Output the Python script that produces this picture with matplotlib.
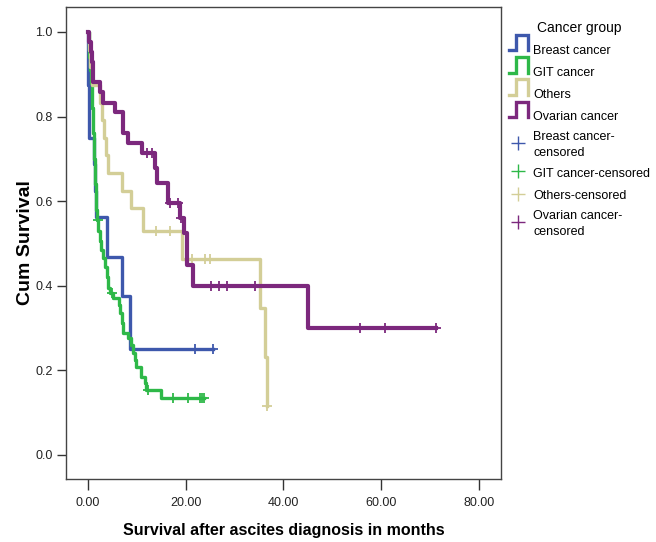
import matplotlib
matplotlib.use("Agg")
import matplotlib.pyplot as plt
from matplotlib.lines import Line2D
from matplotlib.legend_handler import HandlerBase

plt.rcParams['font.family'] = ['Liberation Sans Narrow', 'Liberation Sans', 'DejaVu Sans']

# Kaplan-Meier steps (months, cum survival)
breast_t = [0, 0.05, 0.1, 0.15, 0.2, 1.2, 1.4, 1.7, 3.8, 6.9, 8.5, 25.5]
breast_s = [1.0, 0.938, 0.875, 0.813, 0.75, 0.688, 0.625, 0.563, 0.469, 0.375, 0.25, 0.25]
breast_cens_t = [21.9, 25.5]
breast_cens_s = [0.25, 0.25]

git_t = [0, 0.15, 0.3, 0.45, 0.6, 0.75, 0.85, 0.95, 1.05, 1.15, 1.25, 1.35, 1.45,
         1.55, 1.7, 1.85, 2.1, 2.4, 2.7, 3.0, 3.4, 3.8, 4.1, 4.6, 5.2, 6.3, 6.6,
         7.0, 7.2, 8.2, 8.8, 9.2, 9.7, 9.9, 10.9, 11.6, 11.8, 15.0, 23.7]
git_s = [1.0, 0.97, 0.94, 0.91, 0.88, 0.85, 0.82, 0.79, 0.76, 0.73, 0.70, 0.67, 0.64,
         0.61, 0.58, 0.555, 0.53, 0.505, 0.485, 0.465, 0.445, 0.42, 0.395, 0.383, 0.371,
         0.355, 0.336, 0.312, 0.288, 0.277, 0.259, 0.241, 0.225, 0.208, 0.184, 0.169,
         0.154, 0.135, 0.135]
git_cens_t = [2.0, 5.0, 12.3, 17.4, 20.4, 22.9, 23.3, 23.7]
git_cens_s = [0.555, 0.383, 0.154, 0.135, 0.135, 0.135, 0.135, 0.135]

others_t = [0, 0.2, 0.5, 0.9, 2.4, 2.8, 3.2, 3.6, 4.0, 6.9, 8.9, 11.2, 19.2, 35.2,
            36.3, 36.6]
others_s = [1.0, 0.958, 0.917, 0.875, 0.833, 0.792, 0.75, 0.708, 0.667, 0.625, 0.583,
            0.529, 0.463, 0.347, 0.231, 0.116]
others_cens_t = [13.9, 16.8, 21.2, 23.9, 25.0, 36.6]
others_cens_s = [0.529, 0.529, 0.463, 0.463, 0.463, 0.116]

ovarian_t = [0, 0.3, 0.6, 0.9, 1.1, 2.5, 3.1, 5.5, 7.2, 8.2, 11.0, 13.7, 14.1, 16.4,
             18.8, 19.6, 20.2, 21.5, 45.0, 71.2]
ovarian_s = [1.0, 0.976, 0.952, 0.929, 0.881, 0.857, 0.833, 0.810, 0.762, 0.738, 0.714,
             0.678, 0.643, 0.595, 0.56, 0.525, 0.45, 0.40, 0.30, 0.30]
ovarian_cens_t = [12.0, 13.0, 16.8, 18.4, 19.0, 25.2, 26.8, 28.4, 34.2, 55.6, 60.7, 71.2]
ovarian_cens_s = [0.714, 0.714, 0.595, 0.595, 0.56, 0.40, 0.40, 0.40, 0.40, 0.30, 0.30, 0.30]

groups = ['Breast cancer', 'GIT cancer', 'Others', 'Ovarian cancer']
colors = ['#3E58AC', '#2EB848', '#D3CE97', '#7C287D']
widths = [2.4, 2.4, 2.4, 3.0]
curves = [(breast_t, breast_s, breast_cens_t, breast_cens_s),
          (git_t, git_s, git_cens_t, git_cens_s),
          (others_t, others_s, others_cens_t, others_cens_s),
          (ovarian_t, ovarian_s, ovarian_cens_t, ovarian_cens_s)]


class StepHandler(HandlerBase):
    def create_artists(self, legend, orig, xd, yd, w, h, fontsize, trans):
        xs = [xd, xd + 0.4 * w, xd + 0.4 * w, xd + w, xd + w]
        ys = [yd, yd, yd + h, yd + h, yd]
        ln = Line2D(xs, ys, color=orig.get_color(), lw=orig.get_linewidth(),
                    solid_joinstyle='miter', transform=trans)
        return [ln]


fig = plt.figure(figsize=(6.56, 5.42), dpi=100)
ax = fig.add_axes([0.1006, 0.1162, 0.663, 0.8708])

for (t, s, ct, cs), c, lw in zip(curves, colors, widths):
    ax.step(t, s, where='post', color=c, lw=lw)
    ax.plot(ct, cs, linestyle='none', marker='+', markersize=7, mew=1.3, color=c)

ax.set_xlim(-4.5, 84.5)
ax.set_ylim(-0.057, 1.059)
ax.set_xticks([0, 20, 40, 60, 80])
ax.set_xticklabels(['0.00', '20.00', '40.00', '60.00', '80.00'])
ax.set_yticks([0, 0.2, 0.4, 0.6, 0.8, 1.0])
ax.set_yticklabels(['0.0', '0.2', '0.4', '0.6', '0.8', '1.0'])
ax.tick_params(axis='x', length=8, width=1, colors='#333333', labelsize=9,
               labelcolor='#222222', pad=5)
ax.tick_params(axis='y', length=6.5, width=1, colors='#333333', labelsize=9,
               labelcolor='#222222', pad=3)
for sp in ax.spines.values():
    sp.set_color('#444444')
    sp.set_linewidth(1)

ax.set_xlabel('Survival after ascites diagnosis in months', fontsize=11.5,
              fontweight='bold', labelpad=10)
ax.set_ylabel('Cum Survival', fontsize=14, fontweight='bold', labelpad=1)

step_handles = [Line2D([0], [0], color=c, lw=2.4) for c in colors]
cens_handles = [Line2D([0], [0], color=c, linestyle='none', marker='+',
                       markersize=10, mew=1.0) for c in colors]
labels = groups + ['Breast cancer-\ncensored', 'GIT cancer-censored',
                   'Others-censored', 'Ovarian cancer-\ncensored']
hmap = {h: StepHandler() for h in step_handles}
leg = fig.legend(step_handles + cens_handles, labels, handler_map=hmap,
                 loc='upper left', bbox_to_anchor=(0.768, 0.97), frameon=False,
                 title='Cancer group', fontsize=9, title_fontsize=10,
                 handlelength=1.5, handleheight=1.5, handletextpad=0.45,
                 labelspacing=0.55, borderaxespad=0)
for txt in leg.get_texts():
    txt.set_linespacing(1.45)

fig.savefig('out.png', dpi=100)
